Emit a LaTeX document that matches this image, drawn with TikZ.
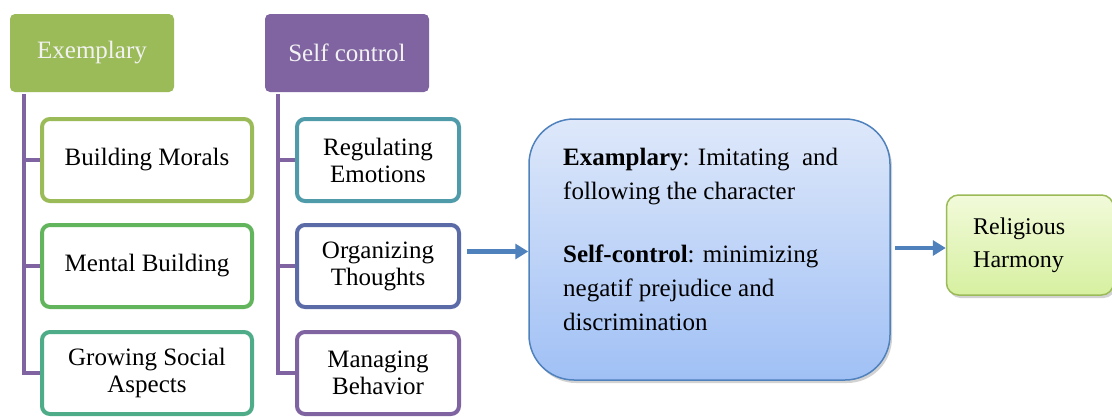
\documentclass[tikz,border=0pt]{standalone}
\usepackage{fontspec}
\setmainfont{Liberation Serif}
\usetikzlibrary{shadows,arrows.meta,calc}
\definecolor{hgreen}{HTML}{9BBB59}
\definecolor{hpurple}{HTML}{8064A2}
\definecolor{cmental}{RGB}{98,181,92}
\definecolor{cgrow}{RGB}{78,173,136}
\definecolor{creg}{RGB}{80,155,170}
\definecolor{corg}{RGB}{91,107,168}
\definecolor{abl}{HTML}{4F81BD}
\definecolor{btop}{RGB}{222,232,250}
\definecolor{bbot}{RGB}{160,192,245}
\definecolor{gtop}{RGB}{242,250,218}
\definecolor{gbot}{RGB}{214,240,160}
\begin{document}
\begin{tikzpicture}[x=1pt,y=-1pt,
  txt/.style={font=\fontsize{25}{27}\selectfont},
  head/.style={txt,rounded corners=5pt,minimum width=164pt,minimum height=78pt,text=white!95!black,inner sep=0pt},
  child/.style={txt,draw,line width=4pt,rounded corners=8pt,fill=white,align=center,inner sep=0pt},
  lchild/.style={child,minimum width=210pt,minimum height=82pt},
  rchild/.style={child,minimum width=162pt,minimum height=82pt},
  tree/.style={draw=hpurple,line width=4pt},
  arr/.style={draw=abl,line width=4.5pt,-{Triangle[length=13pt,width=15pt]}},
  shad/.style={drop shadow={opacity=0.35,shadow xshift=2pt,shadow yshift=-3pt}}
]
\clip (0,0) rectangle (1112,416);
\fill[white] (0,0) rectangle (1112,416);

\node[head,fill=hgreen] (exh) at (92,53) {Exemplary};
\node[head,fill=hpurple] (sch) at (347,53) {Self control};

\node[lchild,draw=hgreen] (bm) at (147,160) {Building Morals};
\node[lchild,draw=cmental] (mb) at (147,266) {Mental Building};
\node[lchild,draw=cgrow] (gs) at (147,373) {Growing Social\\Aspects};

\node[rchild,draw=creg] (re) at (378,160) {Regulating\\Emotions};
\node[rchild,draw=corg] (ot) at (378,266) {Organizing\\Thoughts};
\node[rchild,draw=hpurple] (mv) at (378,373) {Managing\\Behavior};

\coordinate (lt) at ($(exh.south west)+(14pt,-2pt)$);
\coordinate (rt) at ($(sch.south west)+(13pt,-2pt)$);
\draw[tree] (lt) |- (bm.west);
\draw[tree] (lt) |- (mb.west);
\draw[tree] (lt) |- (gs.west);
\draw[tree] (rt) |- (re.west);
\draw[tree] (rt) |- (ot.west);
\draw[tree] (rt) |- (mv.west);

\node[draw=abl,line width=1.5pt,rounded corners=45pt,minimum width=361pt,minimum height=261pt,
  top color=btop,bottom color=bbot,shad] (big) at (709.5,249.5) {};
\node[anchor=north west,align=left,inner sep=0pt,
  font=\fontsize{25}{34}\selectfont] (bt) at (563,148)
  {\textbf{Examplary}: Imitating\ \ and\\ following the character\\[29pt]
   \textbf{Self-control}: minimizing\\ negatif prejudice and\\ discrimination};

\node[draw=hgreen,line width=1.5pt,rounded corners=12pt,minimum width=167pt,minimum height=100pt,
  top color=gtop,bottom color=gbot,shad] (rh) at (1030,245) {};
\node[anchor=north west,align=left,inner sep=0pt,font=\fontsize{24}{33}\selectfont] (rt2) at (973,218) {Religious\\Harmony};

\draw[arr] ($(ot.east |- big.west)+(6pt,-2pt)$) -- ($(big.west)+(0,-2pt)$);
\draw[arr] ($(big.east |- rh.west)+(4pt,-3pt)$) -- ($(rh.west)+(0,-3pt)$);
\end{tikzpicture}
\end{document}
